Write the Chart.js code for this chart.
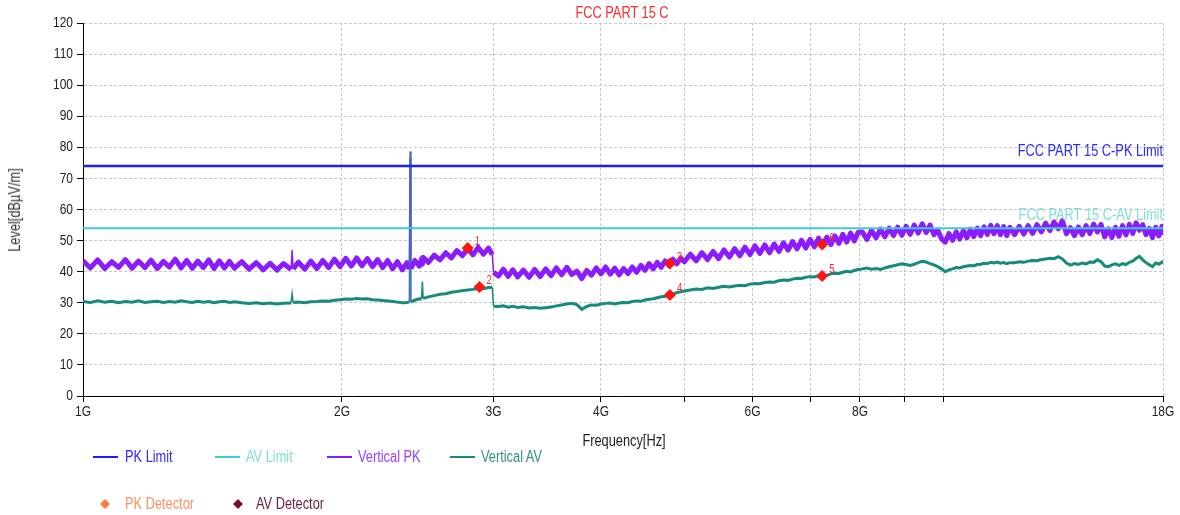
<!DOCTYPE html>
<html><head><meta charset="utf-8">
<script src="https://cdn.jsdelivr.net/npm/chart.js@4.4.1/dist/chart.umd.min.js"></script>
<style>
html,body{margin:0;padding:0;background:#fff;overflow:hidden;}
#wrap{position:relative;width:1180px;height:515px;}
#wrap canvas{position:absolute;left:0;top:0;}
.t{position:absolute;white-space:nowrap;font-family:'Liberation Sans',Arial,sans-serif;line-height:1;}
.ln{position:absolute;height:2px;}
.dm{position:absolute;width:7px;height:7px;transform:translate(-50%,-50%) rotate(45deg);}
</style></head><body>
<div id="wrap"><canvas id="c" width="1180" height="515"></canvas></div>
<script>
// ---------- DATA ----------
const chartTitle = 'FCC PART 15 C';
const xAxisTitle = 'Frequency[Hz]';
const yAxisTitle = 'Level[dB\u00b5V/m]';

const xTickValues = [1, 2, 3, 4, 5, 6, 7, 8, 9, 10, 18];
const xTickLabels = ['1G', '2G', '3G', '4G', '', '6G', '', '8G', '', '', '18G'];
const yTickValues = [0, 10, 20, 30, 40, 50, 60, 70, 80, 90, 100, 110, 120];

const limitNames = ['FCC PART 15 C-PK Limit', 'FCC PART 15 C-AV Limit'];
const limitFreqGHz = [1, 18];
const pkLimit = [74, 74];
const avLimit = [54, 54];

const freqGHz = [
  1.00,1.02,1.04,1.06,1.08,1.10,1.12,1.14,1.16,1.18,1.20,1.22,1.24,1.26,1.28,1.30,1.32,1.34,1.36,1.38,1.40,1.42,1.44,1.46,1.48,1.50,
  1.53,1.56,1.59,1.62,1.65,1.68,1.71,1.745,1.75,1.755,1.78,1.81,1.84,1.87,1.90,1.93,1.96,1.99,2.02,2.05,2.08,2.11,2.14,2.17,2.20,2.23,2.26,2.29,2.32,2.35,2.38,2.395,2.40,2.405,
  2.43,2.46,2.475,2.48,2.485,2.52,2.56,2.60,2.64,2.68,2.72,2.76,2.80,2.84,2.88,2.92,2.96,2.99,3.00,
  3.04,3.08,3.12,3.16,3.20,3.25,3.30,3.35,3.40,3.45,3.50,3.55,3.60,3.65,3.70,3.75,3.80,3.85,3.90,3.95,4.00,4.05,4.10,4.15,4.20,4.25,4.30,4.35,4.40,4.45,4.50,4.55,4.60,4.65,4.70,4.75,4.80,4.85,4.90,4.95,5.00,
  5.08,5.16,5.24,5.32,5.40,5.48,5.56,5.64,5.72,5.80,5.88,5.96,6.04,6.12,6.20,6.28,6.36,6.44,6.52,6.60,6.68,6.76,6.84,6.92,7.00,7.08,7.16,7.24,7.32,7.40,7.48,7.56,7.64,7.72,7.80,7.88,7.96,
  8.05,8.15,8.25,8.35,8.45,8.55,8.65,8.75,8.85,8.95,9.05,9.15,9.25,9.35,9.45,9.55,9.65,9.75,9.85,9.95,10.05,10.15,10.25,10.35,10.45,10.55,10.65,10.75,10.85,10.95,11.05,11.15,11.25,11.35,11.45,11.55,11.65,11.75,11.85,11.95,
  12.10,12.25,12.40,12.55,12.70,12.85,13.00,13.15,13.30,13.45,13.60,13.75,13.90,14.05,14.20,14.35,14.50,14.65,14.80,14.95,15.10,15.25,15.40,15.55,15.70,15.85,16.00,16.15,16.30,16.45,16.60,16.75,16.90,17.05,17.20,17.35,17.50,17.65,17.80,17.95,18.00
];

const pkLevel = [
  43.5,41.2,43.8,41.0,43.2,41.4,43.9,41.1,43.4,41.3,43.7,41.0,43.3,41.5,44.0,41.2,43.6,41.1,43.4,41.3,43.8,41.0,43.5,41.2,43.3,41.1,
  43.2,40.8,42.9,40.6,42.7,40.5,42.6,40.7,46.8,40.9,43.1,40.8,43.4,41.0,43.6,41.3,44.0,41.6,44.3,41.8,44.4,41.9,44.2,41.6,43.9,41.3,43.6,40.9,43.2,40.6,42.9,40.8,78.5,41.0,
  43.6,41.8,44.2,42.4,44.6,43.0,45.3,43.8,46.1,44.4,46.8,45.1,47.5,45.4,47.8,45.6,47.6,45.5,39.8,
  38.6,40.8,38.5,40.6,38.3,40.5,38.2,40.7,38.4,40.9,38.7,41.2,39.0,41.4,39.1,40.2,37.8,40.4,38.9,41.2,39.3,41.5,39.2,41.1,39.0,41.0,39.4,41.5,39.8,42.0,40.4,42.6,40.9,43.0,41.4,43.5,41.9,44.0,42.5,44.4,43.2,
  45.6,43.5,46.1,43.9,46.5,44.2,47.0,44.7,47.4,45.1,47.9,45.5,48.3,45.9,48.6,46.1,48.9,46.5,49.3,46.9,49.7,47.3,50.1,47.6,50.4,48.0,50.8,48.3,51.1,48.7,51.5,49.1,52.0,49.5,52.4,49.9,52.7,
  52.8,50.4,53.3,50.9,53.7,51.2,54.0,51.6,54.3,51.7,54.6,52.0,55.0,52.4,55.4,52.6,55.0,51.9,53.4,50.6,49.5,52.3,50.1,52.8,50.5,53.2,50.9,53.6,51.3,54.0,51.6,54.4,52.0,54.9,52.2,54.8,51.9,54.5,51.6,54.3,
  51.9,54.6,52.1,54.8,52.3,55.1,52.8,55.6,53.2,56.0,53.8,56.4,52.2,54.2,51.6,54.4,51.9,54.8,52.3,55.3,52.8,55.2,51.2,53.8,51.0,54.3,51.4,54.8,51.8,55.2,52.3,55.7,53.3,55.1,51.9,53.9,50.9,54.3,51.5,54.6,51.8
];

const avLevel = [
  30.4,30.1,30.6,30.2,30.5,30.0,30.4,30.2,30.6,30.1,30.3,30.5,30.1,30.4,30.2,30.6,30.3,30.1,30.5,30.2,30.4,30.0,30.3,30.5,30.1,30.3,
  30.0,29.8,30.0,29.7,29.9,29.6,29.8,29.9,32.9,30.1,30.2,30.0,30.3,30.4,30.6,30.5,30.8,31.0,31.2,31.1,31.4,31.2,31.3,31.0,30.9,30.7,30.6,30.4,30.2,30.0,30.1,30.2,76.5,30.3,
  30.8,31.3,31.2,36.8,31.4,31.9,32.3,32.7,32.9,33.4,33.6,33.9,34.1,34.3,34.6,34.5,34.9,35.0,28.9,
  28.8,29.0,28.6,28.9,28.5,28.7,28.3,28.5,28.2,28.4,28.6,29.0,29.3,29.6,29.8,29.4,27.9,28.8,29.3,29.2,29.6,29.8,29.9,29.6,29.9,30.1,30.0,30.4,30.6,30.5,30.9,31.1,31.3,31.6,31.9,32.1,32.5,32.8,33.3,33.5,33.8,
  34.1,34.4,34.3,34.8,34.6,35.0,35.3,35.1,35.4,35.6,35.5,36.0,36.2,36.1,36.5,36.7,36.6,37.1,37.3,37.2,37.6,37.9,37.8,38.2,38.4,38.3,38.7,38.9,38.8,39.3,39.5,39.4,39.8,40.1,39.9,40.4,40.7,
  40.9,41.2,40.8,41.0,40.7,41.2,41.6,41.9,42.2,42.5,42.3,42.0,42.4,42.9,43.3,43.1,42.6,42.2,41.6,40.9,40.0,40.6,40.9,41.3,41.2,41.6,41.8,42.0,41.9,42.3,42.4,42.7,42.6,43.0,42.8,43.1,42.7,42.9,42.6,42.9,
  42.9,43.2,43.0,43.4,43.6,43.5,43.9,44.1,44.3,44.2,44.8,44.1,42.8,42.1,42.6,42.3,42.8,42.5,43.1,43.0,43.8,43.2,41.8,41.6,42.2,42.5,42.0,42.6,42.3,43.0,43.4,44.3,44.9,43.8,42.9,42.2,41.6,42.8,42.4,43.1,42.6
];

const markerLabels = ['1', '2', '3', '4', '5', '6'];
const markerFreqGHz = [2.80, 2.89, 4.81, 4.81, 7.23, 7.23];
const markerLevel = [47.6, 35.1, 42.6, 32.5, 38.6, 48.7];

const seriesNames = ['PK Limit', 'AV Limit', 'Vertical PK', 'Vertical AV'];
const detectorNames = ['PK Detector', 'AV Detector'];

// ---------- STYLE ----------
const FONT = "'Liberation Sans',Arial,sans-serif";
const SX = 0.8; // condensed look of the original's narrow typeface
const COL = {
  pkLimit: '#1c1cff', avLimit: '#3ccdd4', pk: '#8a1cff', av: '#168a7c', marker: '#ff1414',
  pkLimitText: '#2a2aff', avLimitText: '#7fdcdc', pkText: '#9a40ff', avText: '#2f8f88',
  pkDet: '#ff7f3f', pkDetText: '#ff9060', avDet: '#7a0a2a', avDetText: '#6e1f35'
};

const pts = (xs, ys) => xs.map((x, i) => ({ x: x, y: ys[i] }));
const jump = (c) => Math.abs(c.p0.parsed.y - c.p1.parsed.y);

function condText(ctx, s, x, y, align) {
  ctx.save();
  ctx.translate(x, y);
  ctx.scale(SX, 1);
  ctx.textAlign = align;
  ctx.fillText(s, 0, 0);
  ctx.restore();
}

const annot = {
  id: 'annot',
  afterDraw(chart) {
    const ctx = chart.ctx, a = chart.chartArea, x = chart.scales.x, y = chart.scales.y;
    ctx.save();
    ctx.font = '15px ' + FONT;
    ctx.fillStyle = '#222';
    ctx.textBaseline = 'middle';
    yTickValues.forEach(v => condText(ctx, String(v), a.left - 10, y.getPixelForValue(v), 'right'));
    xTickValues.forEach((v, i) => { if (xTickLabels[i]) condText(ctx, xTickLabels[i], x.getPixelForValue(v), a.bottom + 16, 'center'); });
    ctx.font = '16px ' + FONT;
    ctx.fillStyle = COL.pkLimitText;
    condText(ctx, limitNames[0], a.right, y.getPixelForValue(pkLimit[1]) - 14, 'right');
    ctx.fillStyle = COL.avLimitText;
    condText(ctx, limitNames[1], a.right, y.getPixelForValue(avLimit[1]) - 13, 'right');
    ctx.font = '12px ' + FONT;
    ctx.fillStyle = '#ff2a2a';
    chart.getDatasetMeta(0).data.forEach((p, i) => condText(ctx, markerLabels[i], p.x + 7, p.y - 6, 'left'));
    ctx.restore();
  }
};

new Chart(document.getElementById('c'), {
  type: 'line',
  data: {
    datasets: [
      { type: 'scatter', label: 'Markers', data: pts(markerFreqGHz, markerLevel), pointStyle: 'rectRot',
        pointRadius: 6, pointHoverRadius: 6, backgroundColor: COL.marker, borderColor: COL.marker, borderWidth: 0 },
      { label: seriesNames[0], data: pts(limitFreqGHz, pkLimit), borderColor: COL.pkLimit, borderWidth: 2.5, pointRadius: 0 },
      { label: seriesNames[1], data: pts(limitFreqGHz, avLimit), borderColor: COL.avLimit, borderWidth: 2, pointRadius: 0 },
      { label: seriesNames[2], data: pts(freqGHz, pkLevel), borderColor: COL.pk, borderWidth: 5, borderJoinStyle: 'round', pointRadius: 0,
        segment: { borderWidth: c => jump(c) > 5 ? 1.5 : undefined, borderColor: c => jump(c) > 20 ? '#4a62c8' : undefined } },
      { label: seriesNames[3], data: pts(freqGHz, avLevel), borderColor: COL.av, borderWidth: 3, pointRadius: 0,
        segment: { borderWidth: c => jump(c) > 2.5 ? 1.5 : undefined, borderColor: c => jump(c) > 20 ? '#3f78b8' : undefined } }
    ]
  },
  options: {
    animation: false, responsive: false, events: [],
    layout: { padding: { left: 0, right: 17, top: 23, bottom: 0 } },
    plugins: { legend: { display: false }, tooltip: { enabled: false }, title: { display: false } },
    scales: {
      x: {
        type: 'logarithmic', min: 1, max: 18,
        afterBuildTicks: s => { s.ticks = xTickValues.map(v => ({ value: v })); },
        afterFit: s => { s.height = 119; },
        ticks: { display: false, autoSkip: false, maxRotation: 0, minRotation: 0 },
        grid: { color: '#c8c8c8', lineWidth: 1, tickColor: '#000', tickLength: 6, tickWidth: 1 },
        border: { color: '#000', width: 1, dash: [3, 2] }
      },
      y: {
        type: 'linear', min: 0, max: 120,
        afterBuildTicks: s => { s.ticks = yTickValues.map(v => ({ value: v })); },
        afterFit: s => { s.width = 83; },
        ticks: { display: false },
        grid: { color: '#c8c8c8', lineWidth: 1, tickColor: '#000', tickLength: 6, tickWidth: 1 },
        border: { color: '#000', width: 1, dash: [3, 2] }
      }
    }
  },
  plugins: [annot]
});

// ---------- HTML TEXT (title, axis titles, legend) ----------
const W = document.getElementById('wrap');
function txt(s, left, top, color, size, tf, origin) {
  const d = document.createElement('div');
  d.className = 't'; d.textContent = s;
  d.style.left = left + 'px'; d.style.top = top + 'px';
  d.style.color = color; d.style.fontSize = size + 'px';
  d.style.transformOrigin = origin || 'left center';
  d.style.transform = tf || ('translateY(-50%) scaleX(' + SX + ')');
  W.appendChild(d); return d;
}
function line(left, top, w, color) {
  const d = document.createElement('div'); d.className = 'ln';
  d.style.left = left + 'px'; d.style.top = (top - 1) + 'px'; d.style.width = w + 'px'; d.style.background = color;
  W.appendChild(d);
}
function diamond(cx, cy, color) {
  const d = document.createElement('div'); d.className = 'dm';
  d.style.left = cx + 'px'; d.style.top = cy + 'px'; d.style.background = color;
  W.appendChild(d);
}
txt(chartTitle, 622, 13, '#ff2a2a', 16, 'translate(-50%,-50%) scaleX(' + SX + ')', 'center center');
txt(xAxisTitle, 624, 441, '#222', 16, 'translate(-50%,-50%) scaleX(' + SX + ')', 'center center');
txt(yAxisTitle, 15, 210, '#333', 16, 'translate(-50%,-50%) rotate(-90deg) scaleX(' + SX + ')', 'center center');

const legLineX = [93, 215, 327, 450];
const legTextX = [125, 246, 358, 481];
const legLineCol = [COL.pkLimit, COL.avLimit, COL.pk, COL.av];
const legTextCol = [COL.pkLimitText, COL.avLimitText, COL.pkText, COL.avText];
seriesNames.forEach((n, i) => {
  line(legLineX[i], 457, 25, legLineCol[i]);
  txt(n, legTextX[i], 457, legTextCol[i], 16);
});
const detX = [105, 238], detTX = [125, 256];
const detCol = [COL.pkDet, COL.avDet], detTCol = [COL.pkDetText, COL.avDetText];
detectorNames.forEach((n, i) => {
  diamond(detX[i], 504, detCol[i]);
  txt(n, detTX[i], 504, detTCol[i], 16);
});
</script>
</body></html>
